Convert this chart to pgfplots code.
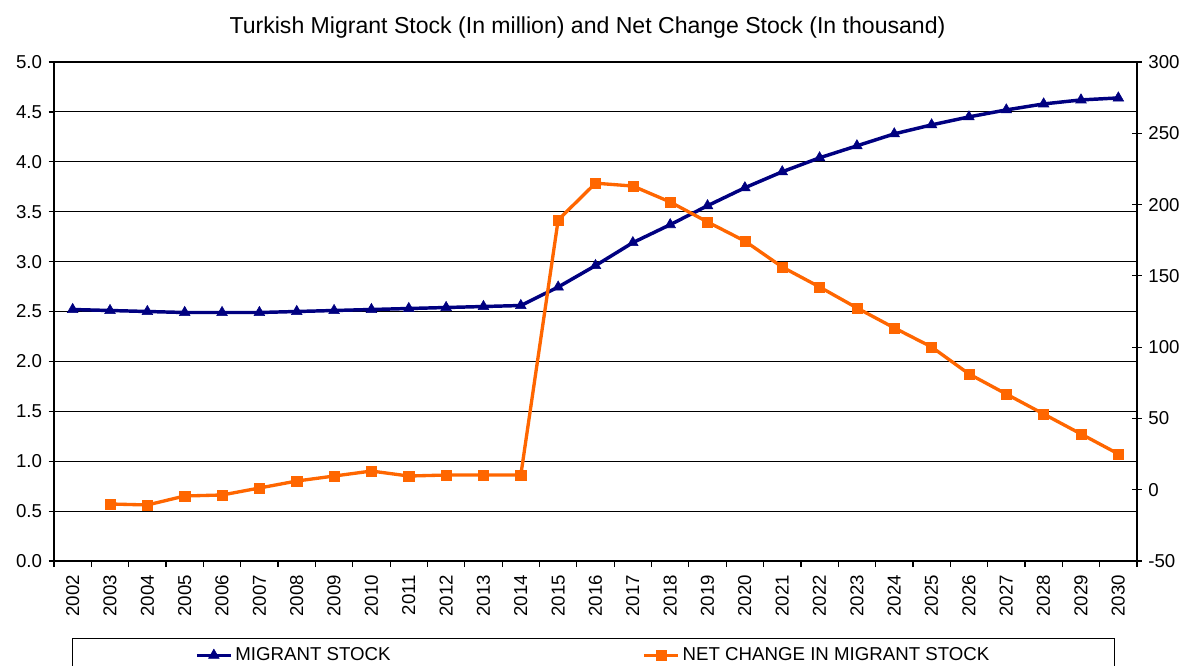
\documentclass[border=0pt]{standalone}
\usepackage{fontspec}
\setmainfont{Liberation Sans}
\usepackage{pgfplots}
\usepackage{pgfplotstable}
\pgfplotsset{compat=1.18}

\definecolor{stockblue}{RGB}{0,0,128}
\definecolor{netorange}{RGB}{255,102,0}

% migrant stock, million
\pgfplotstableread{
year stock
2002 2.52
2003 2.51
2004 2.50
2005 2.49
2006 2.49
2007 2.49
2008 2.50
2009 2.51
2010 2.52
2011 2.53
2012 2.54
2013 2.55
2014 2.56
2015 2.745
2016 2.96
2017 3.19
2018 3.37
2019 3.56
2020 3.74
2021 3.90
2022 4.04
2023 4.16
2024 4.28
2025 4.37
2026 4.45
2027 4.52
2028 4.58
2029 4.62
2030 4.64
}\stocktable

% net change, thousand
\pgfplotstableread{
year net
2003 -10.0
2004 -10.7
2005 -4.4
2006 -3.7
2007 1.2
2008 6.1
2009 9.6
2010 13.1
2011 9.6
2012 10.3
2013 10.3
2014 10.3
2015 189.2
2016 215.0
2017 213.0
2018 201.8
2019 187.8
2020 174.4
2021 156.2
2022 142.2
2023 127.5
2024 113.5
2025 100.1
2026 81.2
2027 67.1
2028 53.1
2029 39.1
2030 25.1
}\nettable

\pgfplotsset{
  common/.style={
    scale only axis,
    width=812.25pt, height=374.25pt,
    xmin=2001.5, xmax=2030.5,
    /pgf/number format/assume math mode=true,
    tick label style={font=\fontsize{14}{16}\selectfont},
    axis line style={black, line width=0.9pt},
    every tick/.style={black, line width=0.9pt},
  },
  legend image code/.code={
    \draw[mark repeat=2, mark phase=2, #1]
      plot coordinates {(0cm,0cm) (0.45cm,0cm) (0.9cm,0cm)};
  },
}

\begin{document}
\begin{tikzpicture}
\useasboundingbox (-40.5pt,-78pt) rectangle (847.5pt,420.75pt);
\begin{axis}[common,
  ymin=0, ymax=5, ytick={0,0.5,...,5},
  yticklabel style={/pgf/number format/.cd, fixed, fixed zerofill, precision=1},
  ymajorgrids, major grid style={black, line width=0.8pt},
  xtick={2002,...,2030},
  xticklabel style={rotate=90, anchor=east, /pgf/number format/1000 sep={}},
  major x tick style={draw=none},
  minor xtick={2001.5,2002.5,...,2030.5},
  tick align=outside, major tick length=4pt, minor tick length=4.5pt,
  xticklabel shift=3pt, yticklabel shift=1.5pt,
  xtick pos=bottom, ytick pos=left,
  title={Turkish Migrant Stock (In million) and Net Change Stock (In thousand)},
  title style={font=\fontsize{17.3}{20}\selectfont, at={(0.5,1)}, anchor=center, yshift=19.5pt, xshift=-6pt},
  legend columns=2,
  legend style={at={(0.01662,-0.1543)}, anchor=north west, draw=black, line width=0.6pt,
    font=\fontsize{14}{16}\selectfont, inner xsep=92pt, inner ysep=5pt,
    /tikz/every even column/.append style={column sep=187pt}},
]
\addplot[stockblue, line width=2.6pt, mark=triangle*, mark size=4.6pt,
  mark options={line width=0.4pt}] table[x=year, y=stock] {\stocktable};
\addlegendentry{MIGRANT STOCK}
\addlegendimage{netorange, line width=2.5pt, mark=square*, mark size=3.8pt, mark options={line width=0.4pt}}
\addlegendentry{NET CHANGE IN MIGRANT STOCK\hspace{6pt}}
\end{axis}
\begin{axis}[common,
  axis y line*=right, axis x line=none,
  ymin=-50, ymax=300, ytick={-50,0,...,300},
  tick align=center, major tick length=7pt, yticklabel shift=1.5pt,
]
\addplot[netorange, line width=2.5pt, mark=square*, mark size=3.8pt,
  mark options={line width=0.4pt}] table[x=year, y=net] {\nettable};
\end{axis}
\end{tikzpicture}
\end{document}
